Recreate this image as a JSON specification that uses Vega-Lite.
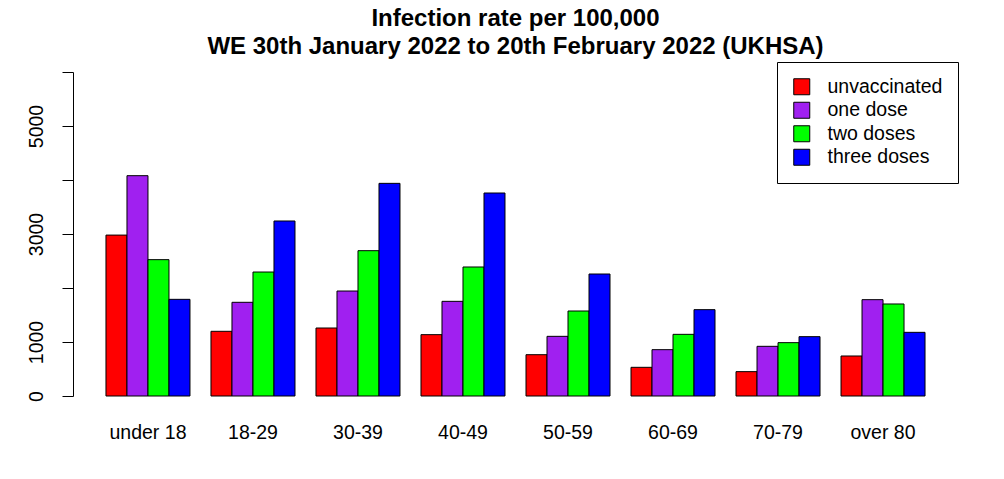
{
  "$schema": "https://vega.github.io/schema/vega-lite/v6.json",
  "autosize": "none",
  "width": 885,
  "height": 324,
  "padding": {"left": 73, "top": 72, "right": 46, "bottom": 83},
  "background": "white",
  "title": {
    "text": ["Infection rate per 100,000", "WE 30th January 2022 to 20th February 2022 (UKHSA)"],
    "font": "Liberation Sans",
    "fontSize": 24,
    "fontWeight": "bold",
    "color": "black",
    "anchor": "middle",
    "lineHeight": 28,
    "offset": 3
  },
  "data": {
    "values": [
      {"age": "under 18", "dose": "unvaccinated", "rate": 2980},
      {"age": "under 18", "dose": "one dose", "rate": 4080},
      {"age": "under 18", "dose": "two doses", "rate": 2525},
      {"age": "under 18", "dose": "three doses", "rate": 1790},
      {"age": "18-29", "dose": "unvaccinated", "rate": 1198},
      {"age": "18-29", "dose": "one dose", "rate": 1735},
      {"age": "18-29", "dose": "two doses", "rate": 2296},
      {"age": "18-29", "dose": "three doses", "rate": 3241},
      {"age": "30-39", "dose": "unvaccinated", "rate": 1259},
      {"age": "30-39", "dose": "one dose", "rate": 1944},
      {"age": "30-39", "dose": "two doses", "rate": 2691},
      {"age": "30-39", "dose": "three doses", "rate": 3938},
      {"age": "40-49", "dose": "unvaccinated", "rate": 1136},
      {"age": "40-49", "dose": "one dose", "rate": 1753},
      {"age": "40-49", "dose": "two doses", "rate": 2389},
      {"age": "40-49", "dose": "three doses", "rate": 3759},
      {"age": "50-59", "dose": "unvaccinated", "rate": 765},
      {"age": "50-59", "dose": "one dose", "rate": 1105},
      {"age": "50-59", "dose": "two doses", "rate": 1574},
      {"age": "50-59", "dose": "three doses", "rate": 2259},
      {"age": "60-69", "dose": "unvaccinated", "rate": 531},
      {"age": "60-69", "dose": "one dose", "rate": 858},
      {"age": "60-69", "dose": "two doses", "rate": 1142},
      {"age": "60-69", "dose": "three doses", "rate": 1599},
      {"age": "70-79", "dose": "unvaccinated", "rate": 451},
      {"age": "70-79", "dose": "one dose", "rate": 920},
      {"age": "70-79", "dose": "two doses", "rate": 988},
      {"age": "70-79", "dose": "three doses", "rate": 1099},
      {"age": "over 80", "dose": "unvaccinated", "rate": 741},
      {"age": "over 80", "dose": "one dose", "rate": 1784},
      {"age": "over 80", "dose": "two doses", "rate": 1704},
      {"age": "over 80", "dose": "three doses", "rate": 1179}
    ]
  },
  "mark": {"type": "bar", "stroke": "black", "strokeWidth": 1, "opacity": 1},
  "encoding": {
    "x": {
      "field": "age",
      "type": "nominal",
      "sort": ["under 18", "18-29", "30-39", "40-49", "50-59", "60-69", "70-79", "over 80"],
      "scale": {"paddingInner": 0.2, "paddingOuter": 0.314},
      "axis": {
        "title": null,
        "domain": false,
        "ticks": false,
        "tickSize": 0,
        "labelAngle": 0,
        "labelBaseline": "alphabetic",
        "labelPadding": 42,
        "labelFont": "Liberation Sans",
        "labelFontSize": 19.5,
        "labelColor": "black"
      }
    },
    "xOffset": {
      "field": "dose",
      "type": "nominal",
      "sort": ["unvaccinated", "one dose", "two doses", "three doses"],
      "scale": {"paddingInner": 0, "paddingOuter": 0}
    },
    "y": {
      "field": "rate",
      "type": "quantitative",
      "scale": {"domain": [0, 6000], "nice": false, "zero": true},
      "axis": {
        "title": null,
        "grid": false,
        "values": [0, 1000, 2000, 3000, 4000, 5000, 6000],
        "labelExpr": "datum.value == 0 || datum.value == 1000 || datum.value == 3000 || datum.value == 5000 ? format(datum.value, 'd') : ''",
        "labelAngle": -90,
        "labelAlign": "center",
        "labelBaseline": "bottom",
        "labelPadding": 16,
        "tickSize": 11,
        "tickColor": "black",
        "domainColor": "black",
        "labelFont": "Liberation Sans",
        "labelFontSize": 19.5,
        "labelColor": "black"
      }
    },
    "y2": {"datum": 0},
    "color": {
      "field": "dose",
      "type": "nominal",
      "sort": ["unvaccinated", "one dose", "two doses", "three doses"],
      "scale": {
        "domain": ["unvaccinated", "one dose", "two doses", "three doses"],
        "range": ["#FF0000", "#A020F0", "#00FF00", "#0000FF"]
      },
      "legend": {
        "title": null,
        "orient": "none",
        "legendX": 704,
        "legendY": -10,
        "symbolType": "square",
        "symbolSize": 256,
        "symbolStrokeColor": "black",
        "symbolStrokeWidth": 1,
        "symbolOpacity": 1,
        "labelFont": "Liberation Sans",
        "labelFontSize": 19.5,
        "labelColor": "black",
        "labelOffset": 16,
        "rowPadding": 2.5,
        "padding": 15,
        "strokeColor": "black",
        "fillColor": "white"
      }
    }
  },
  "config": {"view": {"stroke": null}}
}
